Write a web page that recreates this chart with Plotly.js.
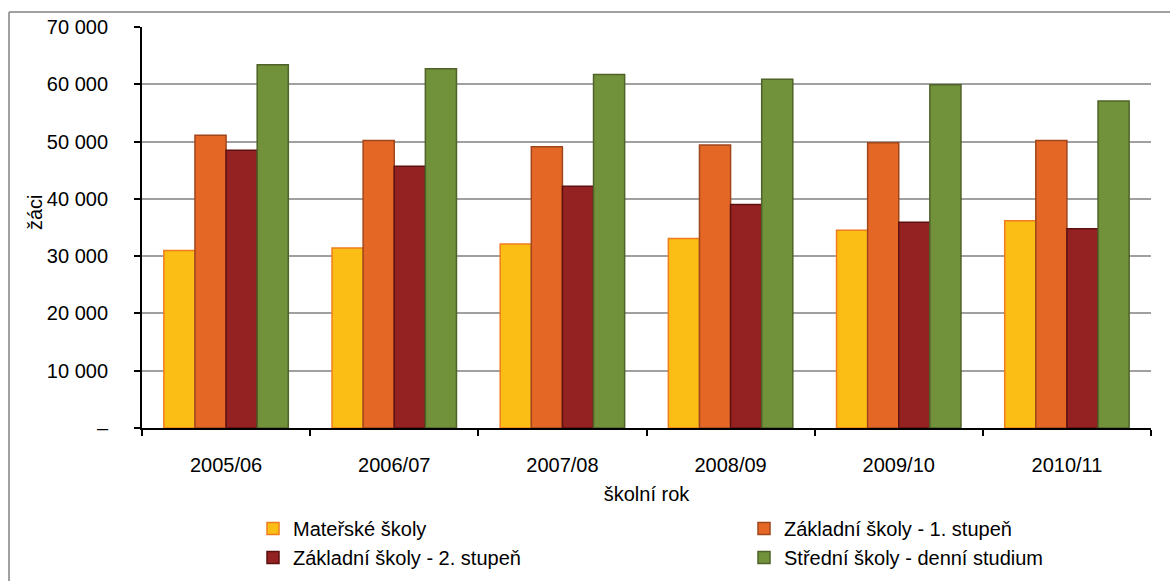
<!DOCTYPE html>
<html>
<head>
<meta charset="utf-8">
<script src="https://cdn.plot.ly/plotly-3.0.1.min.js"></script>
<style>
  html, body { margin: 0; padding: 0; background: #fff; }
  #chart { width: 1170px; height: 581px; }
</style>
</head>
<body>
<div id="chart"></div>
<script>
const categories = ["2005/06", "2006/07", "2007/08", "2008/09", "2009/10", "2010/11"];
const seriesNames = ["Mateřské školy", "Základní školy - 1. stupeň", "Základní školy - 2. stupeň", "Střední školy - denní studium"];
const materske = [31000, 31400, 32100, 33100, 34500, 36200];
const zakladni1 = [51100, 50200, 49100, 49400, 49800, 50200];
const zakladni2 = [48500, 45700, 42200, 39000, 35900, 34800];
const stredni = [63400, 62700, 61700, 60900, 59900, 57100];
const yTickVals = [0, 10000, 20000, 30000, 40000, 50000, 60000, 70000];
const yTickText = ["–", "10 000", "20 000", "30 000", "40 000", "50 000", "60 000", "70 000"];

const fills = ["#FBBE14", "#E46726", "#952222", "#71913B"];
const borders = ["#F07C1E", "#A0461C", "#5C1010", "#4F6228"];
const legendIds = ["legend", "legend2", "legend", "legend2"];
const allValues = [materske, zakladni1, zakladni2, stredni];

const font = "Liberation Sans, Arial, sans-serif";
const traces = allValues.map((vals, i) => ({
  type: "bar",
  name: seriesNames[i],
  x: categories,
  y: vals,
  legend: legendIds[i],
  marker: { color: fills[i], line: { color: borders[i], width: 1.5 } },
  hoverinfo: "x+y+name"
}));

const legendBase = {
  orientation: "v",
  xref: "container", yref: "container",
  xanchor: "left", yanchor: "top",
  y: 1 - 509 / 581,
  font: { family: font, size: 20, color: "#000" },
  itemwidth: 30,
  tracegroupgap: 0,
  traceorder: "normal",
  bgcolor: "rgba(0,0,0,0)"
};

const layout = {
  width: 1170,
  height: 581,
  margin: { l: 142, r: 19, t: 27, b: 153, autoexpand: false },
  paper_bgcolor: "#ffffff",
  plot_bgcolor: "#ffffff",
  font: { family: font, size: 20, color: "#000" },
  barmode: "group",
  bargap: 0.26,
  bargroupgap: 0,
  showlegend: true,
  legend: Object.assign({}, legendBase, { x: 253 / 1170 }),
  legend2: Object.assign({}, legendBase, { x: 744 / 1170 }),
  xaxis: {
    type: "category",
    showline: true, linecolor: "#000", linewidth: 2,
    ticks: "outside", tickson: "boundaries", ticklen: 6, tickcolor: "#000", tickwidth: 2,
    ticklabelstandoff: 18,
    tickfont: { family: font, size: 20, color: "#000" },
    title: { text: "školní rok", font: { family: font, size: 20, color: "#000" }, standoff: 12 },
    showgrid: false,
    zeroline: false
  },
  yaxis: {
    range: [0, 70000],
    tickvals: yTickVals,
    ticktext: yTickText,
    showline: true, linecolor: "#000", linewidth: 2,
    ticks: "outside", ticklen: 6, tickcolor: "#000", tickwidth: 2,
    ticklabelstandoff: 22,
    tickfont: { family: font, size: 20, color: "#000" },
    showgrid: true, gridcolor: "#A0A0A0", gridwidth: 2,
    zeroline: false
  },
  annotations: [
    { text: "žáci", xref: "paper", yref: "paper", x: (35 - 142) / 1009, y: (428 - 212) / 401,
      xanchor: "center", yanchor: "middle", textangle: -90, showarrow: false,
      font: { family: font, size: 20, color: "#000" } }
  ],
  shapes: [
    { type: "line", xref: "paper", yref: "paper", x0: -0.1318, x1: 1.04, y0: 1.0374, y1: 1.0374, line: { color: "#A0A0A0", width: 2 } },
    { type: "line", xref: "paper", yref: "paper", x0: -0.1318, x1: -0.1318, y0: 1.0374, y1: -0.5, line: { color: "#A0A0A0", width: 2 } }
  ]
};

Plotly.newPlot("chart", traces, layout, { displayModeBar: false, staticPlot: true });
</script>
</body>
</html>
